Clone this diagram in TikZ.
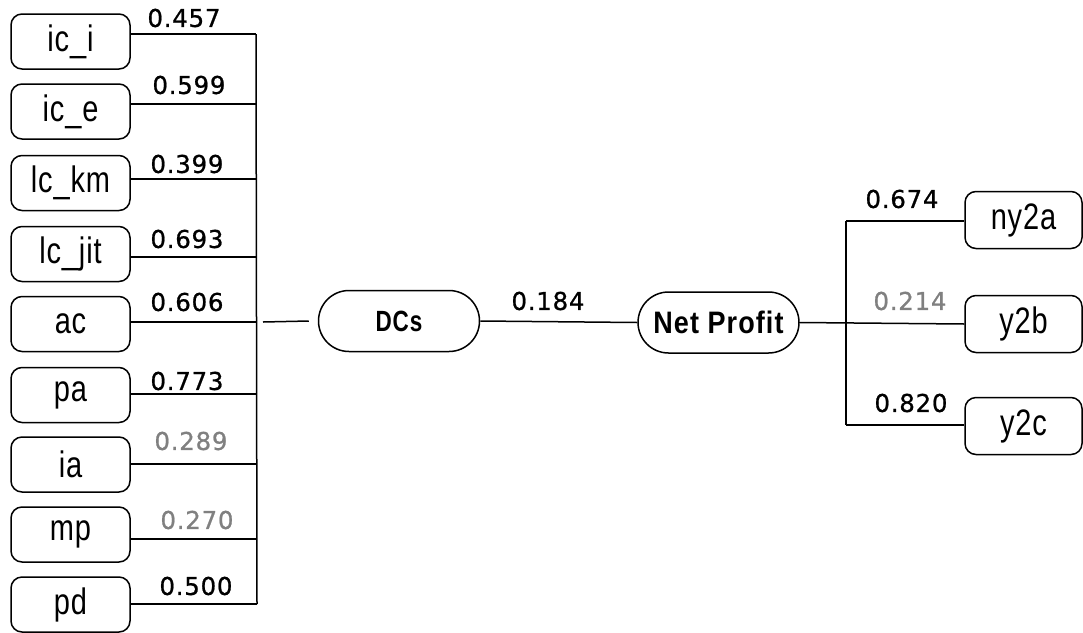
\documentclass[tikz,border=0pt]{standalone}
\usepackage{fontspec}
\usepackage{graphicx}
\setmainfont{Liberation Sans}
\newfontfamily\numfont[FakeBold=0.8,LetterSpace=3]{DejaVu Sans}
\newfontfamily\headfont[LetterSpace=4]{Liberation Sans}
\newfontfamily\itemfont[LetterSpace=3]{Liberation Sans}
\usetikzlibrary{shapes.misc}

% tall, narrow label text used inside the boxes
\newcommand\boxtext[1]{\scalebox{1}[1.27]{\itemfont\fontsize{29}{29}\selectfont #1}}
\newcommand\bigtext[3]{\scalebox{1}[#2]{\headfont\bfseries\fontsize{#1}{#1}\selectfont #3}}

\begin{document}
\begin{tikzpicture}[x=1pt,y=-1pt,line width=1.5pt,
  item/.style={draw,rounded corners=11pt,minimum width=119pt,minimum height=55pt,inner sep=0pt},
  outitem/.style={item,minimum width=117pt,minimum height=57pt},
  latent/.style={draw,rounded rectangle,minimum width=161pt,minimum height=61pt,inner sep=0pt},
  wt/.style={font=\numfont\fontsize{24.5}{24.5}\selectfont,inner sep=0pt},
  weak/.style={wt,text=black!50}]
\useasboundingbox (0,0) rectangle (1083,632);

% indicator boxes on the left
\node[item] (ici)   at (70.5,41.5)  {\boxtext{ic\_i}};
\node[item] (ice)   at (70.5,111.5) {\boxtext{ic\_e}};
\node[item] (lckm)  at (70.5,183)   {\boxtext{lc\_km}};
\node[item] (lcjit) at (70.5,254)   {\boxtext{lc\_jit}};
\node[item] (ac)    at (70.5,324)   {\boxtext{ac}};
\node[item] (pa)    at (70.5,395)   {\boxtext{pa}};
\node[item] (ia)    at (70.5,464.5) {\boxtext{ia}};
\node[item] (mp)    at (70.5,534.5) {\boxtext{mp}};
\node[item] (pd)    at (70.5,604.5) {\boxtext{pd}};

% latent variables
\node[latent] (dcs) at (399,321)   {\bigtext{22.5}{1.3}{DCs}};
\node[latent] (np)  at (718.5,322.5) {\bigtext{27}{1.15}{Net Profit}};

% indicator boxes on the right
\node[outitem] (ny2a) at (1023.5,220) {\boxtext{ny2a}};
\node[outitem] (y2b)  at (1023.5,324) {\boxtext{y2b}};
\node[outitem] (y2c)  at (1023.5,426) {\boxtext{y2c}};

% left collecting bar
\coordinate (b1) at (256,34);
\coordinate (b2) at (256,104);
\coordinate (b3) at (256,179);
\coordinate (b4) at (256,257);
\coordinate (b5) at (256,322);
\coordinate (b6) at (257,394);
\coordinate (b7) at (257,464);
\coordinate (b8) at (257,539);
\coordinate (b9) at (257,604);
\draw (b1) -- (b9);
\draw (ici.east |- b1) -- (b1);
\draw (ice.east |- b2) -- (b2);
\draw (lckm.east |- b3) -- (b3);
\draw (lcjit.east |- b4) -- (b4);
\draw (ac.east |- b5) -- (b5);
\draw (pa.east |- b6) -- (b6);
\draw (ia.east |- b7) -- (b7);
\draw (mp.east |- b8) -- (b8);
\draw (pd.east |- b9) -- (b9);

\coordinate (j) at (263,322);
\draw (j) -- ([xshift=-9pt]dcs.west);
\draw (dcs.east) -- (np.west);

% right distributing bar
\coordinate (r1) at (846,221);
\coordinate (r3) at (846,425);
\draw (r1) -- (r3);
\draw (r1) -- (ny2a.west |- r1);
\draw (np.east) -- (y2b.west);
\draw (r3) -- (y2c.west |- r3);

% loadings
\node[wt]   (w1) at (184,18)  {0.457};
\node[wt]   (w2) at (189,85)  {0.599};
\node[wt]   (w3) at (187,164) {0.399};
\node[wt]   (w4) at (187,239) {0.693};
\node[wt]   (w5) at (187,302) {0.606};
\node[wt]   (w6) at (187,381) {0.773};
\node[weak] (w7) at (191,441) {0.289};
\node[weak] (w8) at (197,520) {0.270};
\node[wt]   (w9) at (196,586) {0.500};
\node[wt]   (wp) at (548,301) {0.184};
\node[wt]   (o1) at (902,199) {0.674};
\node[weak] (o2) at (910,301) {0.214};
\node[wt]   (o3) at (911,403) {0.820};
\end{tikzpicture}
\end{document}
